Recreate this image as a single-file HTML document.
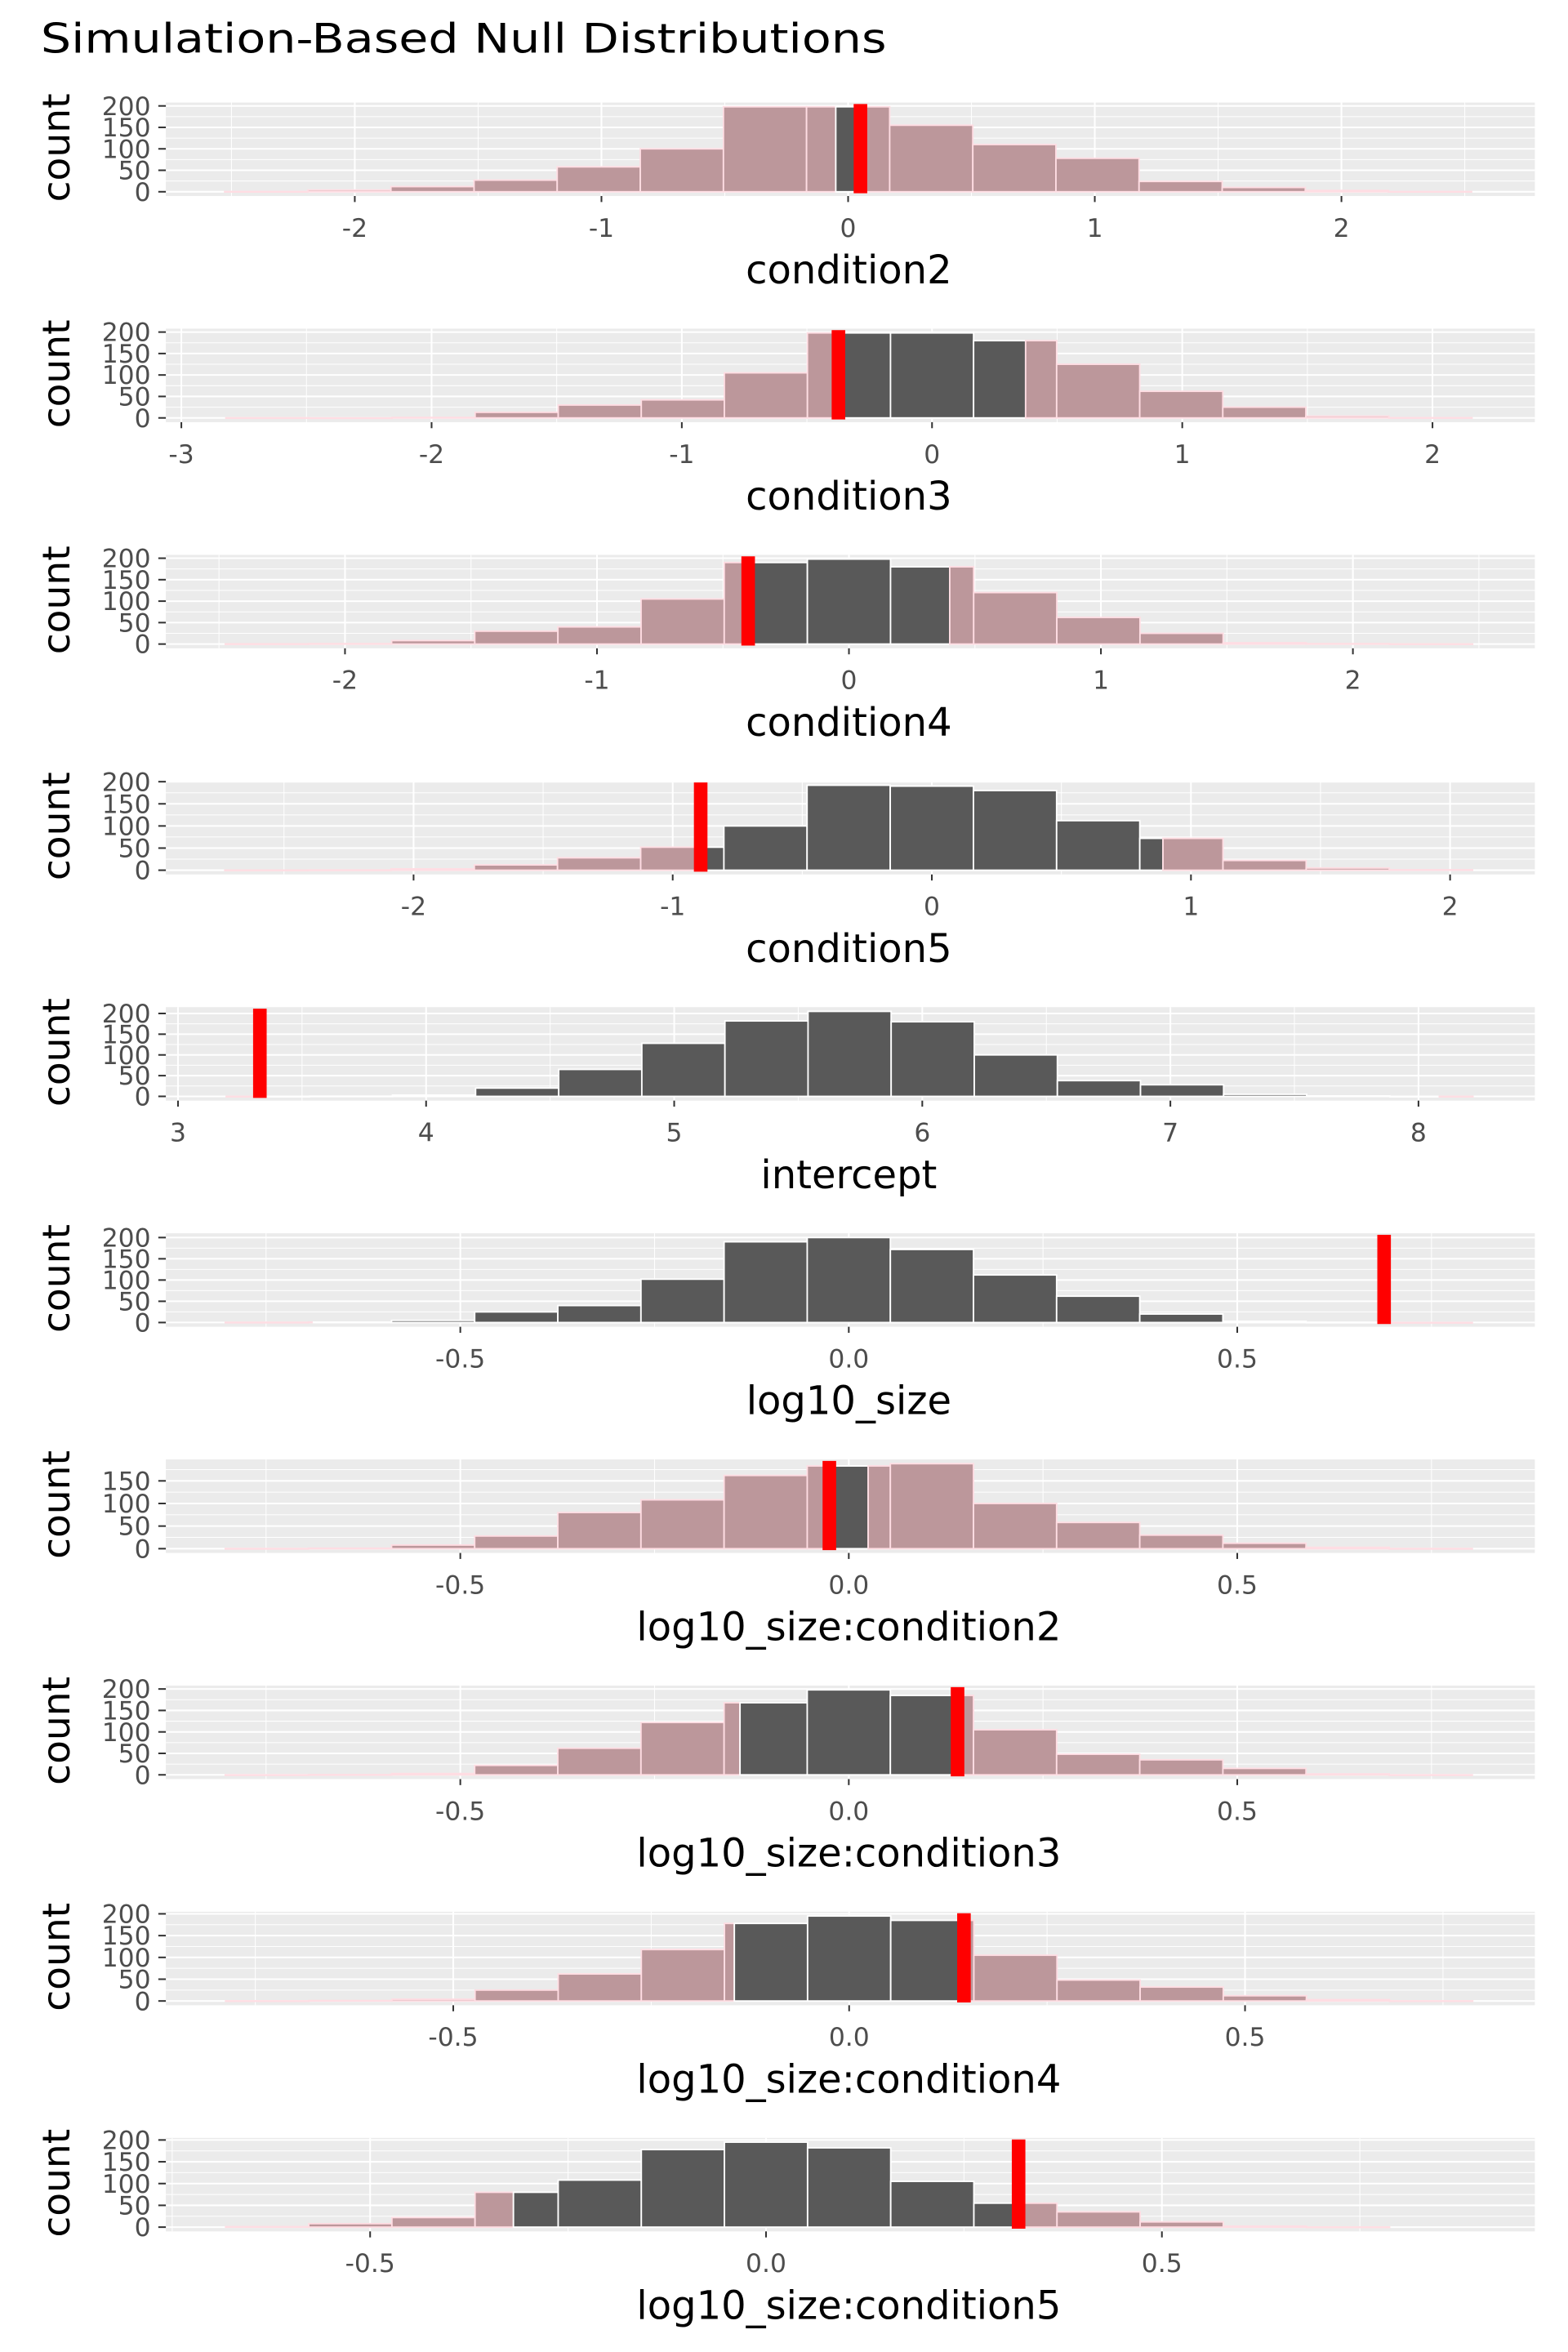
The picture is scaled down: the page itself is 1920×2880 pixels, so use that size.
<!DOCTYPE html>
<html><head><meta charset="utf-8"><style>
html,body{margin:0;padding:0;background:#fff;}
svg{display:block;font-family:"DejaVu Sans","Liberation Sans",sans-serif;}
</style></head><body>
<svg id="chart" xmlns="http://www.w3.org/2000/svg" width="1920" height="2880" viewBox="0 0 1040 1560">
<rect x="0" y="0" width="1040" height="1560" fill="#fff"/>
<text x="27" y="35" font-size="27" fill="#000" textLength="561" lengthAdjust="spacingAndGlyphs">Simulation-Based Null Distributions</text>
</svg>
<script>
const panelNames = ["condition2","condition3","condition4","condition5","intercept","log10_size","log10_size:condition2","log10_size:condition3","log10_size:condition4","log10_size:condition5"];
const obsValues = [0.05,-0.374,-0.40,-0.892,3.33,0.689,-0.025,0.14,0.145,0.319];
const nullCenters = [0,0,0,0,5.707,0,0,0,0,0];
const binWidths = [0.337,0.332,0.33,0.321,0.335,0.107,0.107,0.107,0.105,0.105];
const firstBinCenters = [-7*0.337,-8*0.332,-7*0.33,-8*0.321,5.707-7*0.335,-7*0.107,-7*0.107,-7*0.107,-7*0.105,-6*0.105];
const xDomainMin = [-2.766,-3.062,-2.711,-2.956,2.951,-0.879,-0.879,-0.879,-0.863,-0.758];
const xDomainMax = [2.784,2.409,2.722,2.327,8.469,0.883,0.883,0.883,0.866,0.971];
const counts_condition2 = [0.5,4,12,27,58,100,198,198,155,110,78,24,10,3,0.5];
const counts_condition3 = [0.3,0,1,13,30,42,105,198,198,180,125,62,25,4,0.5];
const counts_condition4 = [0.5,1,8,30,40,105,190,198,180,120,62,25,3,1,0.3];
const counts_condition5 = [0.3,0.5,3,12,28,52,100,192,190,180,112,72,22,5,1];
const counts_intercept = [0,0.5,3,20,65,128,182,205,180,100,38,28,5,1,0];
const counts_log10_size = [0.5,1,5,25,40,102,190,200,172,112,62,20,3,0.5,0];
const counts_log10_size_c2 = [0.3,1,8,28,80,108,162,183,188,100,58,30,12,3,0.3];
const counts_log10_size_c3 = [0,0.5,3,22,62,122,168,198,185,105,48,35,15,2,0];
const counts_log10_size_c4 = [0.3,1,4,25,62,118,178,195,185,105,48,32,12,3,0.3];
const counts_log10_size_c5 = [1,8,22,80,108,178,195,182,105,55,35,12,2,0.3];
const allCounts = [counts_condition2,counts_condition3,counts_condition4,counts_condition5,counts_intercept,counts_log10_size,counts_log10_size_c2,counts_log10_size_c3,counts_log10_size_c4,counts_log10_size_c5];
const xTicks = [[-2,-1,0,1,2],[-3,-2,-1,0,1,2],[-2,-1,0,1,2],[-2,-1,0,1,2],[3,4,5,6,7,8],[-0.5,0,0.5],[-0.5,0,0.5],[-0.5,0,0.5],[-0.5,0,0.5],[-0.5,0,0.5]];
const xTickLabels = [["-2","-1","0","1","2"],["-3","-2","-1","0","1","2"],["-2","-1","0","1","2"],["-2","-1","0","1","2"],["3","4","5","6","7","8"],["-0.5","0.0","0.5"],["-0.5","0.0","0.5"],["-0.5","0.0","0.5"],["-0.5","0.0","0.5"],["-0.5","0.0","0.5"]];

const NS="http://www.w3.org/2000/svg";
const svg=document.getElementById('chart');
function mk(tag,attrs,parent){const e=document.createElementNS(NS,tag);for(const k in attrs)e.setAttribute(k,attrs[k]);(parent||svg).appendChild(e);return e;}
const PX0=110,PX1=1018,PH=62;
panelNames.forEach((name,p)=>{
  const T=68+150*p;
  const g=mk('g',{});
  
  
  const xs=v=>PX0+(v-xDomainMin[p])/(xDomainMax[p]-xDomainMin[p])*(PX1-PX0);
  const cnt=allCounts[p];
  const M=Math.max(...cnt);
  const yMin=-0.05*M,yMax=1.05*M;
  const ys=v=>T+PH-(v-yMin)/(yMax-yMin)*PH;
  const bg=mk('rect',{x:PX0,y:T,width:PX1-PX0,height:PH,fill:'#EBEBEB'},g);
  
  
  const tk=xTicks[p];const step=tk[1]-tk[0];
  for(let v=tk[0]-step*3;v<=tk[tk.length-1]+step*3;v+=step/2){
    const x=xs(v); if(x<PX0||x>PX1)continue;
    const major=Math.abs(Math.round(v/step)*step-v)<1e-6;
    mk('line',{x1:x,x2:x,y1:T,y2:T+PH,stroke:'#fff','stroke-width':major?1.1:0.55},g);
  }
  for(let v=0;v<=yMax;v+=25){
    const y=ys(v);
    mk('line',{x1:PX0,x2:PX1,y1:y,y2:y,stroke:'#fff','stroke-width':v%50===0?1.1:0.55},g);
  }
  const lo=nullCenters[p]-Math.abs(obsValues[p]-nullCenters[p]);
  const hi=nullCenters[p]+Math.abs(obsValues[p]-nullCenters[p]);
  cnt.forEach((c,i)=>{
    const cx=firstBinCenters[p]+i*binWidths[p];
    const a=cx-binWidths[p]/2,b=cx+binWidths[p]/2;
    const y0=ys(0),y1=ys(c);
    const segs=[];
    if(a<lo)segs.push([a,Math.min(b,lo),'pink']);
    if(b>lo&&a<hi)segs.push([Math.max(a,lo),Math.min(b,hi),'dark']);
    if(b>hi)segs.push([Math.max(a,hi),b,'pink']);
    segs.forEach(s=>{
      const dark=s[2]==='dark';
      const r=mk('rect',{x:xs(s[0]),y:y1,width:Math.max(0,xs(s[1])-xs(s[0])),height:Math.max(0.3,y0-y1),fill:dark?'#595959':'#BC979B',stroke:dark?'#fff':'#FFDDE3','stroke-width':1},g);
      
      
    });
  });
  const ox=xs(obsValues[p]);
  const ol=mk('line',{x1:ox,x2:ox,y1:ys(yMax)+1,y2:ys(0)+1,stroke:'#FF0000','stroke-width':9},g);
  
  
  tk.forEach((v,i)=>{
    const x=xs(v);
    mk('line',{x1:x,x2:x,y1:T+PH,y2:T+PH+4,stroke:'#333','stroke-width':1.1},g);
    const lab=xTickLabels[p][i];
    const t=mk('text',{x:x,y:T+PH+27,'font-size':17,fill:'#4D4D4D','text-anchor':'middle'},g);
    t.textContent=lab;
    
    
  });
  for(let v=0;v<=yMax;v+=50){
    const y=ys(v);
    mk('line',{x1:PX0-5,x2:PX0,y1:y,y2:y,stroke:'#333','stroke-width':1.1},g);
    const lab=String(v);
    const t=mk('text',{x:PX0-10,y:y+6,'font-size':17,fill:'#4D4D4D','text-anchor':'end'},g);
    t.textContent=lab;
    
    
  }
  const xt=mk('text',{x:(PX0+PX1)/2-1,y:T+PH+58,'font-size':26,fill:'#000','text-anchor':'middle'},g);
  xt.textContent=name;
  
  
  const yt=mk('text',{x:0,y:0,'font-size':25,fill:'#000','text-anchor':'middle',textLength:72,lengthAdjust:'spacingAndGlyphs',transform:`translate(46,${T+30}) rotate(-90)`},g);
  yt.textContent='count';
  
  
});
</script>
</body></html>
